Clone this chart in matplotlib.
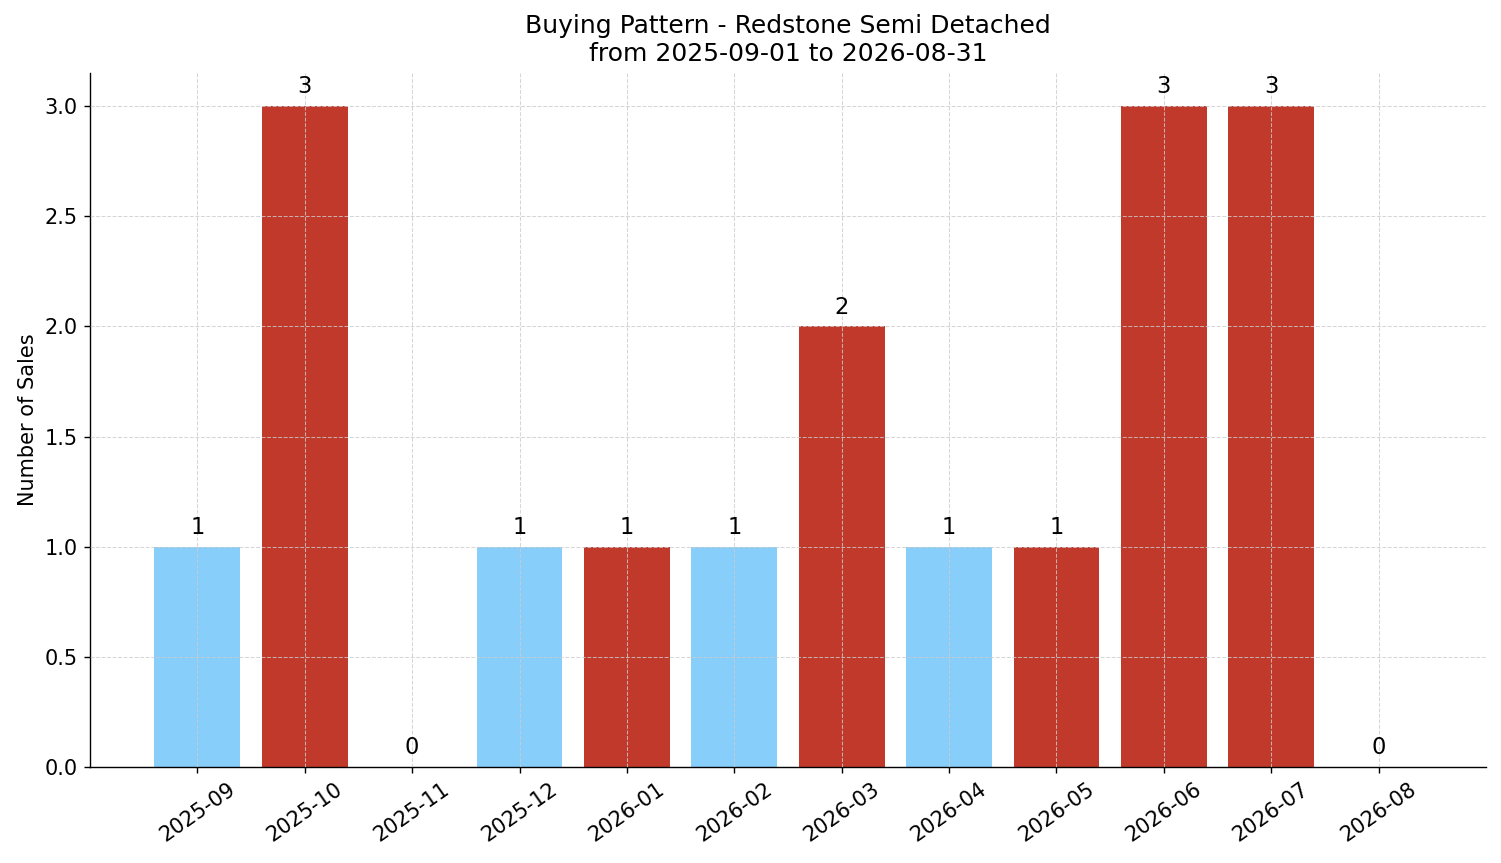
import matplotlib
matplotlib.use("Agg")
import matplotlib.pyplot as plt
import numpy as np

months = ["2025-09", "2025-10", "2025-11", "2025-12", "2026-01", "2026-02",
          "2026-03", "2026-04", "2026-05", "2026-06", "2026-07", "2026-08"]
sales = [1, 3, 0, 1, 1, 1, 2, 1, 1, 3, 3, 0]
bar_colors = ["#87CEFA", "#C0392B", "#87CEFA", "#87CEFA", "#C0392B", "#87CEFA",
              "#C0392B", "#87CEFA", "#C0392B", "#C0392B", "#C0392B", "#87CEFA"]

fig = plt.figure(figsize=(1501/125, 863/125), dpi=125)
ax = fig.add_axes([90/1501, 1 - 767/863, (1486-90)/1501, (767-73)/863])

x = np.arange(len(months))
bars = ax.bar(x, sales, width=0.8, color=bar_colors, zorder=1)
ax.grid(True, linestyle="--", linewidth=0.6, color="#cccccc", alpha=0.8, zorder=2)
ax.set_axisbelow(False)

for xi, v in zip(x, sales):
    ax.annotate(f"{v}", (xi, v), xytext=(0, 4.5), textcoords="offset points",
                ha="center", va="bottom", fontsize=13)

ax.set_xticks(x)
ax.set_xticklabels(months, rotation=35, ha="center")
ax.set_xlim(-1, 12)
ax.set_ylim(0, 3.15)
ax.set_ylabel("Number of Sales", fontsize=12)
ax.set_title("Buying Pattern - Redstone Semi Detached\nfrom 2025-09-01 to 2026-08-31", fontsize=14.4, pad=7)
ax.tick_params(labelsize=12)
for s in ["top", "right"]:
    ax.spines[s].set_visible(False)

fig.savefig("out.png", dpi=125)
